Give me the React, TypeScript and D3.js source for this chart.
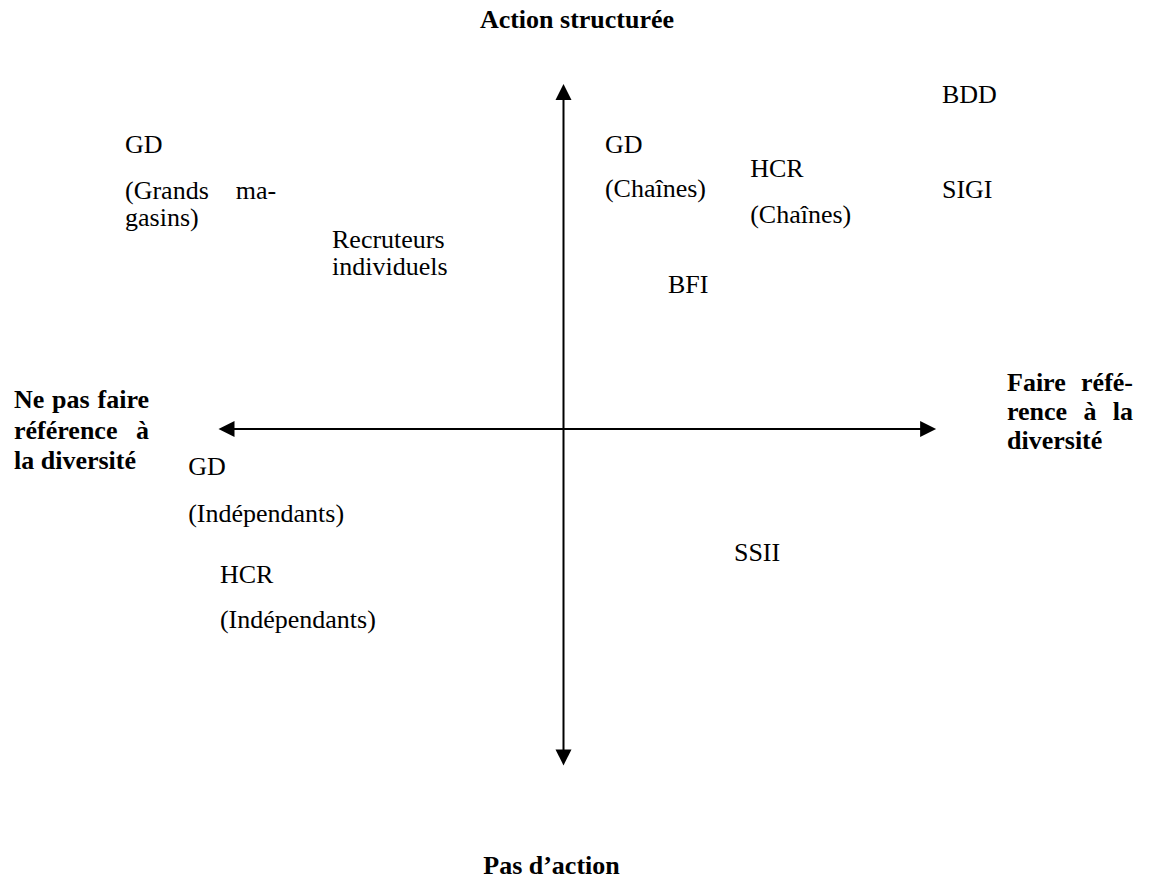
import React from "react";
import * as d3 from "d3";

// axis extents in map units (origin = crossing of the two axes)
const xAxisExtent = [-10, 10.8];
const yAxisExtent = [-9.75, 10];

// sector labels: text lines, left edge x, baseline y of the first line
const labelTexts = [
  ["GD"],
  ["(Grands ma-", "gasins)"],
  ["Recruteurs", "individuels"],
  ["GD"],
  ["(Chaînes)"],
  ["HCR"],
  ["(Chaînes)"],
  ["BDD"],
  ["SIGI"],
  ["BFI"],
  ["GD"],
  ["(Indépendants)"],
  ["HCR"],
  ["(Indépendants)"],
  ["SSII"],
];
const labelX = [-12.71, -12.71, -6.71, 1.2, 1.2, 5.41, 5.41, 10.97, 10.97, 3.03, -10.88, -10.88, -9.96, -9.96, 4.94];
const labelY = [8.0, 6.67, 5.25, 8.0, 6.72, 7.3, 5.97, 9.45, 6.7, 3.94, -1.33, -2.7, -4.46, -5.77, -3.83];
// justified first line: right edge in map units (null = plain)
const labelJustifyTo = [null, -8.33, null, null, null, null, null, null, null, null, null, null, null, null, null];

// axis titles
const topTitle = "Action structurée";
const bottomTitle = "Pas d’action";
const leftTitle = ["Ne pas faire", "référence à", "la diversité"];
const rightTitle = ["Faire réfé-", "rence à la", "diversité"];

const W = 1149;
const H = 885;
const unit = 34.5;
const cx = 563.5;
const cy = 429;

const x = d3.scaleLinear().domain([0, 1]).range([cx, cx + unit]);
const y = d3.scaleLinear().domain([0, 1]).range([cy, cy - unit]);

const FONT = "Liberation Serif, Times New Roman, Times, serif";
const FS = 26;

let ctx: CanvasRenderingContext2D | null = null;
function measure(t: string, bold: boolean) {
  if (!ctx) ctx = document.createElement("canvas").getContext("2d");
  ctx!.font = `${bold ? "bold " : ""}${FS}px "Liberation Serif", "Times New Roman", serif`;
  return ctx!.measureText(t).width;
}

// one justified line: words spread between x0 and x1
function Justified({ text, x0, x1, yy, bold, last }: any) {
  const words = text.split(" ");
  const weight = bold ? "bold" : "normal";
  if (last || words.length === 1) {
    return (
      <text x={x0} y={yy} fontWeight={weight}>
        {text}
      </text>
    );
  }
  const widths = words.map((w: string) => measure(w, bold));
  const gap = (x1 - x0 - d3.sum(widths)) / (words.length - 1);
  let px = x0;
  return (
    <g fontWeight={weight}>
      {words.map((w: string, i: number) => {
        const el = (
          <text key={i} x={px} y={yy}>
            {w}
          </text>
        );
        px += widths[i] + gap;
        return el;
      })}
    </g>
  );
}

export default function App() {
  const lineH = 27;
  const arrow = (x1: number, y1: number, x2: number, y2: number) => {
    const ang = Math.atan2(y2 - y1, x2 - x1);
    const len = 16;
    const hw = 8;
    const bx = x2 - len * Math.cos(ang);
    const by = y2 - len * Math.sin(ang);
    const p = d3.path();
    p.moveTo(x2, y2);
    p.lineTo(bx + hw * Math.sin(ang), by - hw * Math.cos(ang));
    p.lineTo(bx - hw * Math.sin(ang), by + hw * Math.cos(ang));
    p.closePath();
    return p.toString();
  };

  const xl = x(xAxisExtent[0]);
  const xr = x(xAxisExtent[1]);
  const yt = y(yAxisExtent[1]);
  const yb = y(yAxisExtent[0]);

  return (
    <svg
      width={W}
      height={H}
      style={{ position: "absolute", left: 0, top: 0, background: "#fff", fontFamily: FONT }}
      fontSize={FS}
      fill="#000"
    >
      {/* axes */}
      <line x1={xl + 10} y1={cy} x2={xr - 10} y2={cy} stroke="#000" strokeWidth={2} />
      <line x1={cx} y1={yt + 10} x2={cx} y2={yb - 10} stroke="#000" strokeWidth={2} />
      <path d={arrow(cx, cy, xl, cy)} />
      <path d={arrow(cx, cy, xr, cy)} />
      <path d={arrow(cx, cy, cx, yt)} />
      <path d={arrow(cx, cy, cx, yb)} />

      {/* axis titles */}
      <text x={577} y={28} textAnchor="middle" fontWeight="bold">
        {topTitle}
      </text>
      <text x={551.5} y={874} textAnchor="middle" fontWeight="bold">
        {bottomTitle}
      </text>
      {leftTitle.map((t, i) => (
        <Justified key={i} text={t} x0={14} x1={149} yy={408 + i * 30.5} bold last={i === leftTitle.length - 1} />
      ))}
      {rightTitle.map((t, i) => (
        <Justified key={i} text={t} x0={1007} x1={1133} yy={391 + i * 29} bold last={i === rightTitle.length - 1} />
      ))}

      {/* sector labels */}
      {labelTexts.map((lines, k) => (
        <g key={k}>
          {lines.map((t, i) =>
            i === 0 && labelJustifyTo[k] != null ? (
              <Justified key={i} text={t} x0={x(labelX[k])} x1={x(labelJustifyTo[k] as number)} yy={y(labelY[k])} />
            ) : (
              <text key={i} x={x(labelX[k])} y={y(labelY[k]) + i * lineH}>
                {t}
              </text>
            )
          )}
        </g>
      ))}
    </svg>
  );
}
